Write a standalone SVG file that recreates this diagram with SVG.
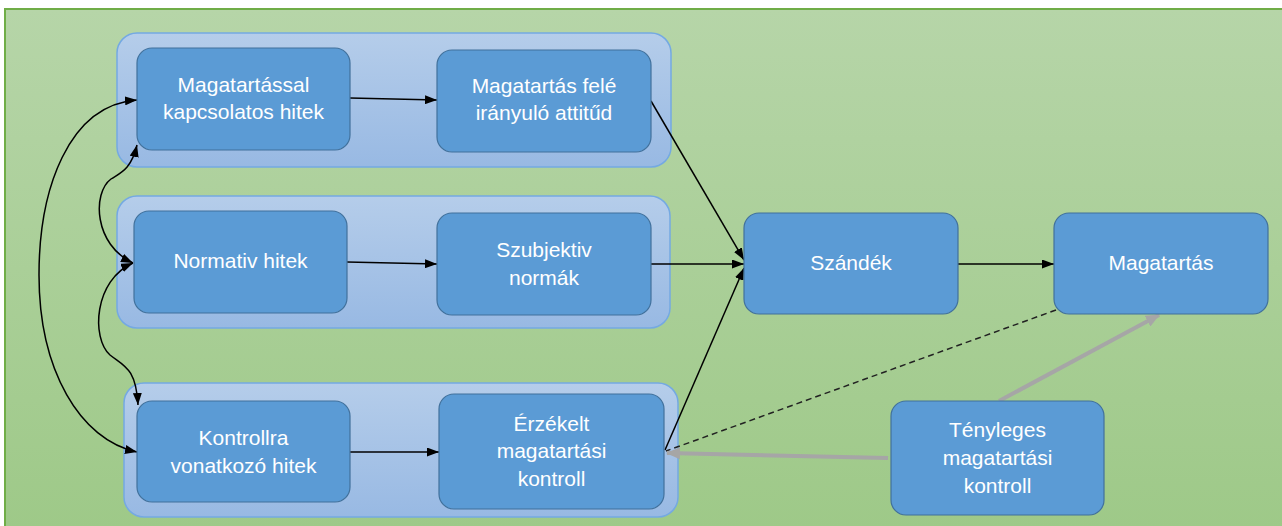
<svg xmlns="http://www.w3.org/2000/svg" width="1282" height="526" viewBox="0 0 1282 526">
<defs>
<linearGradient id="bg" x1="0" y1="0" x2="0" y2="1">
<stop offset="0" stop-color="#b6d5a8"/>
<stop offset="1" stop-color="#9ec988"/>
</linearGradient>
<linearGradient id="grp" x1="0" y1="0" x2="0" y2="1">
<stop offset="0" stop-color="#b5cdea"/>
<stop offset="1" stop-color="#98b9e3"/>
</linearGradient>
<marker id="ab" viewBox="0 0 12 9" refX="12" refY="4.5" markerWidth="12" markerHeight="9" markerUnits="userSpaceOnUse" orient="auto-start-reverse">
<path d="M0,0 L12,4.5 L0,9 z" fill="#000"/>
</marker>
<marker id="ag" viewBox="0 0 14 12" refX="13" refY="6" markerWidth="14" markerHeight="12" markerUnits="userSpaceOnUse" orient="auto">
<path d="M0,0 L14,6 L0,12 z" fill="#a6a6a6"/>
</marker>
<style>
.grp{fill:url(#grp);stroke:#74a9e2;stroke-width:1.5}
.node{fill:#5b9bd5;stroke:#41719c;stroke-width:1.2}
.lbl{font-family:"Liberation Sans",Arial,sans-serif;font-size:21px;fill:#fff;text-anchor:middle}
.c{fill:none;stroke:#000;stroke-width:1.5}
.g{fill:none;stroke:#a6a6a6;stroke-width:4}
.d{fill:none;stroke:#222;stroke-width:1.5;stroke-dasharray:6 4}
</style>
</defs>
<rect x="5" y="9" width="1280" height="520" fill="url(#bg)" stroke="#70ad47" stroke-width="2"/>

<g id="groups">
<rect id="group-attitude" class="grp" x="117" y="33" width="554" height="134" rx="20"/>
<rect id="group-norm" class="grp" x="117" y="196" width="553" height="132" rx="20"/>
<rect id="group-control" class="grp" x="124" y="383" width="554" height="134" rx="20"/>
</g>

<g id="connectors">
<path class="c" d="M350,98 L437,100" marker-end="url(#ab)"/>
<path class="c" d="M347,262 L437,264" marker-end="url(#ab)"/>
<path class="c" d="M350,452 L439,452" marker-end="url(#ab)"/>
<path class="c" d="M651,101 L744,260" marker-end="url(#ab)"/>
<path class="c" d="M651,264 L744,264" marker-end="url(#ab)"/>
<path class="c" d="M665,450 L744,268" marker-end="url(#ab)"/>
<path class="c" d="M958,264 L1054,264" marker-end="url(#ab)"/>
<path class="d" d="M1056,310 L666,451"/>
<path class="g" d="M888,458 L667,453" marker-end="url(#ag)"/>
<path class="g" d="M999,401 L1159,315" marker-end="url(#ag)"/>
<path class="c" d="M137,100 C68,105 39,190 39,275 C39,370 80,440 137,452" marker-start="url(#ab)" marker-end="url(#ab)"/>
<path class="c" d="M137,145 C131,170 120,173 111,179 C92,193 94,245 133,263" marker-start="url(#ab)" marker-end="url(#ab)"/>
<path class="c" d="M133,263 C94,280 91,338 110,355 C124,366 136,368 138,405" marker-start="url(#ab)" marker-end="url(#ab)"/>
</g>

<g id="n-beliefs">
<rect class="node" x="137" y="48" width="213" height="102" rx="15"/>
<text class="lbl" x="243.5" y="92">Magatartással</text>
<text class="lbl" x="243.5" y="119">kapcsolatos hitek</text>
</g>
<g id="n-attitude">
<rect class="node" x="437" y="50" width="214" height="102" rx="15"/>
<text class="lbl" x="544" y="93">Magatartás felé</text>
<text class="lbl" x="544" y="120">irányuló attitűd</text>
</g>
<g id="n-normbeliefs">
<rect class="node" x="134" y="211" width="213" height="102" rx="15"/>
<text class="lbl" x="240.5" y="268">Normativ hitek</text>
</g>
<g id="n-subjnorm">
<rect class="node" x="437" y="213" width="214" height="102" rx="15"/>
<text class="lbl" x="544" y="257">Szubjektiv</text>
<text class="lbl" x="544" y="285">normák</text>
</g>
<g id="n-controlbeliefs">
<rect class="node" x="137" y="401" width="213" height="101" rx="15"/>
<text class="lbl" x="243.5" y="445">Kontrollra</text>
<text class="lbl" x="243.5" y="473">vonatkozó hitek</text>
</g>
<g id="n-perceived">
<rect class="node" x="439" y="394" width="225" height="115" rx="15"/>
<text class="lbl" x="551.5" y="431">Érzékelt</text>
<text class="lbl" x="551.5" y="458">magatartási</text>
<text class="lbl" x="551.5" y="486">kontroll</text>
</g>
<g id="n-intention">
<rect class="node" x="744" y="213" width="214" height="101" rx="15"/>
<text class="lbl" x="851" y="270">Szándék</text>
</g>
<g id="n-behavior">
<rect class="node" x="1054" y="213" width="214" height="101" rx="15"/>
<text class="lbl" x="1161" y="270">Magatartás</text>
</g>
<g id="n-actual">
<rect class="node" x="891" y="401" width="213" height="114" rx="15"/>
<text class="lbl" x="997.5" y="437">Tényleges</text>
<text class="lbl" x="997.5" y="465">magatartási</text>
<text class="lbl" x="997.5" y="493">kontroll</text>
</g>
</svg>
